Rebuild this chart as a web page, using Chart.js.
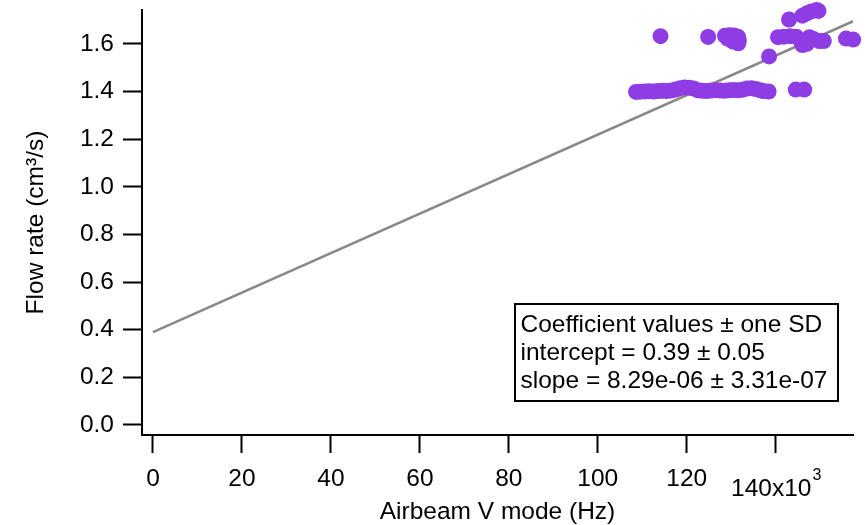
<!DOCTYPE html>
<html>
<head>
<meta charset="utf-8">
<script src="https://cdn.jsdelivr.net/npm/chart.js@4.4.0/dist/chart.umd.min.js"></script>
<style>
html,body{margin:0;padding:0;background:#fff;}
#wrap{width:865px;height:525px;position:relative;}
</style>
</head>
<body>
<div id="wrap"><canvas id="c" width="865" height="525"></canvas></div>
<script>
// ---- Data (x in kHz, y in cm^3/s) ----
const bandX = [108.6,109.5,110.5,111.5,112.5,113.5,114.5,115.5,116.5,117.5,118.5,119.5,120.5,121.5,122.5,123.5,124.5,125.5,126.5,127.5,128.5,129.5,130.5,131.5,132.5,133.5,134.5,135.5,136.5,137.2,138.4,144.5,146.4];
const bandY = [1.398,1.399,1.400,1.401,1.400,1.402,1.403,1.402,1.404,1.408,1.414,1.417,1.416,1.413,1.405,1.403,1.402,1.404,1.405,1.404,1.403,1.405,1.406,1.405,1.407,1.412,1.414,1.410,1.405,1.402,1.400,1.408,1.408];
const highX = [114.1,124.8,128.6,129.6,130.6,131.5,131.7,131.6,130.3,129.2,138.5,140.5,141.8,143.2,144.6,145.5,146.0,147.0,147.6,148.5,149.8,150.8,155.8,157.4,143.0,146.0,147.0,148.0,149.2,149.6];
const highY = [1.632,1.629,1.634,1.636,1.635,1.630,1.615,1.602,1.610,1.622,1.547,1.628,1.630,1.632,1.630,1.615,1.595,1.600,1.628,1.620,1.612,1.612,1.622,1.618,1.702,1.718,1.728,1.736,1.742,1.738];
const fitIntercept = 0.39;      // cm^3/s
const fitSlopePerHz = 8.29e-6;  // cm^3/s per Hz
const fitXRange = [0, 157.4];   // kHz
const xTickValues = [0,20,40,60,80,100,120,140];
const xTickLabels = ['0','20','40','60','80','100','120','140x10'];
const xTickExponent = '3';
const yTickValues = [0,0.2,0.4,0.6,0.8,1.0,1.2,1.4,1.6];
const yTickLabels = ['0.0','0.2','0.4','0.6','0.8','1.0','1.2','1.4','1.6'];
const coefLines = ['Coefficient values \u00b1 one SD','intercept = 0.39 \u00b1 0.05','slope = 8.29e-06 \u00b1 3.31e-07'];
const xTitle = 'Airbeam V mode (Hz)';
const yTitle = 'Flow rate (cm\u00b3/s)';

// ---- build datasets ----
const scatterPts = bandX.map((x,i)=>({x, y: bandY[i]})).concat(highX.map((x,i)=>({x, y: highY[i]})));
const fitPts = fitXRange.map(x => ({x, y: fitIntercept + fitSlopePerHz * x * 1000}));

const FONT = "'Liberation Sans', Arial, sans-serif";
const FS = 24.5;
Chart.defaults.font.family = FONT;
Chart.defaults.font.size = FS;
Chart.defaults.color = '#000';

const lastXTick = xTickValues.length - 1;

const overlay = {
  id: 'overlay',
  afterDraw(chart) {
    const ctx = chart.ctx;
    const xs = chart.scales.x;
    ctx.save();
    ctx.fillStyle = '#000';
    ctx.textBaseline = 'middle';
    ctx.textAlign = 'left';
    ctx.font = FS + "px " + FONT;
    const main = xTickLabels[lastXTick];
    const w1 = ctx.measureText(main).width;
    ctx.font = "16px " + FONT;
    const w2 = ctx.measureText(xTickExponent).width;
    const px = xs.getPixelForValue(xTickValues[lastXTick]);
    const start = px - (w1 + w2) / 2;
    ctx.font = FS + "px " + FONT;
    ctx.fillText(main, start, 489.5);
    ctx.font = "16px " + FONT;
    ctx.fillText(xTickExponent, start + w1 + 1, 476);
    // coefficient box
    const bx = 515, by = 304, bw = 323, bh = 97;
    ctx.fillStyle = '#fff';
    ctx.fillRect(bx, by, bw, bh);
    ctx.strokeStyle = '#000';
    ctx.lineWidth = 2;
    ctx.strokeRect(bx, by, bw, bh);
    ctx.fillStyle = '#000';
    ctx.font = FS + "px " + FONT;
    ctx.textBaseline = 'middle';
    coefLines.forEach((t, i) => ctx.fillText(t, bx + 5.5, 325.5 + i * 28));
    ctx.restore();
  }
};

new Chart(document.getElementById('c'), {
  type: 'scatter',
  data: {
    datasets: [
      {
        type: 'line',
        data: fitPts,
        borderColor: 'rgb(136,136,136)',
        borderWidth: 2.5,
        pointRadius: 0,
        fill: false,
        order: 2
      },
      {
        type: 'scatter',
        data: scatterPts,
        backgroundColor: 'rgb(142,60,228)',
        borderWidth: 0,
        pointRadius: 8,
        pointHoverRadius: 8,
        clip: false,
        order: 1
      }
    ]
  },
  plugins: [overlay],
  options: {
    responsive: false,
    animation: false,
    devicePixelRatio: 1,
    layout: { padding: { top: 10, right: 12, left: 0, bottom: 0 } },
    plugins: { legend: { display: false }, tooltip: { enabled: false } },
    scales: {
      x: {
        type: 'linear',
        min: -2.47,
        max: 157.37,
        afterBuildTicks: s => { s.ticks = xTickValues.map(v => ({ value: v })); },
        afterFit: s => { s.height = 90; s.paddingLeft = 0; s.paddingRight = 0; },
        ticks: {
          callback: (v, i) => (i === lastXTick ? '' : xTickLabels[i]),
          padding: 12,
          maxRotation: 0,
          autoSkip: false,
          color: '#000',
          font: { size: FS }
        },
        grid: { drawOnChartArea: false, drawTicks: true, tickLength: 18, tickColor: '#000', tickWidth: 2 },
        border: { color: '#000', width: 2 },
        title: { display: true, text: xTitle, color: '#000', font: { size: FS }, padding: { top: 0, bottom: -1.5 } }
      },
      y: {
        type: 'linear',
        min: -0.042,
        max: 1.742,
        afterBuildTicks: s => { s.ticks = yTickValues.map(v => ({ value: v })); },
        afterFit: s => { s.width = 142; s.paddingTop = 0; s.paddingBottom = 0; },
        ticks: {
          callback: (v, i) => yTickLabels[i],
          padding: 9,
          color: '#000',
          font: { size: FS }
        },
        grid: { drawOnChartArea: false, drawTicks: true, tickLength: 19, tickColor: '#000', tickWidth: 2 },
        border: { color: '#000', width: 2 },
        title: { display: true, text: yTitle, color: '#000', font: { size: FS }, padding: { top: 22, bottom: 0 } }
      }
    }
  }
});
</script>
</body>
</html>
